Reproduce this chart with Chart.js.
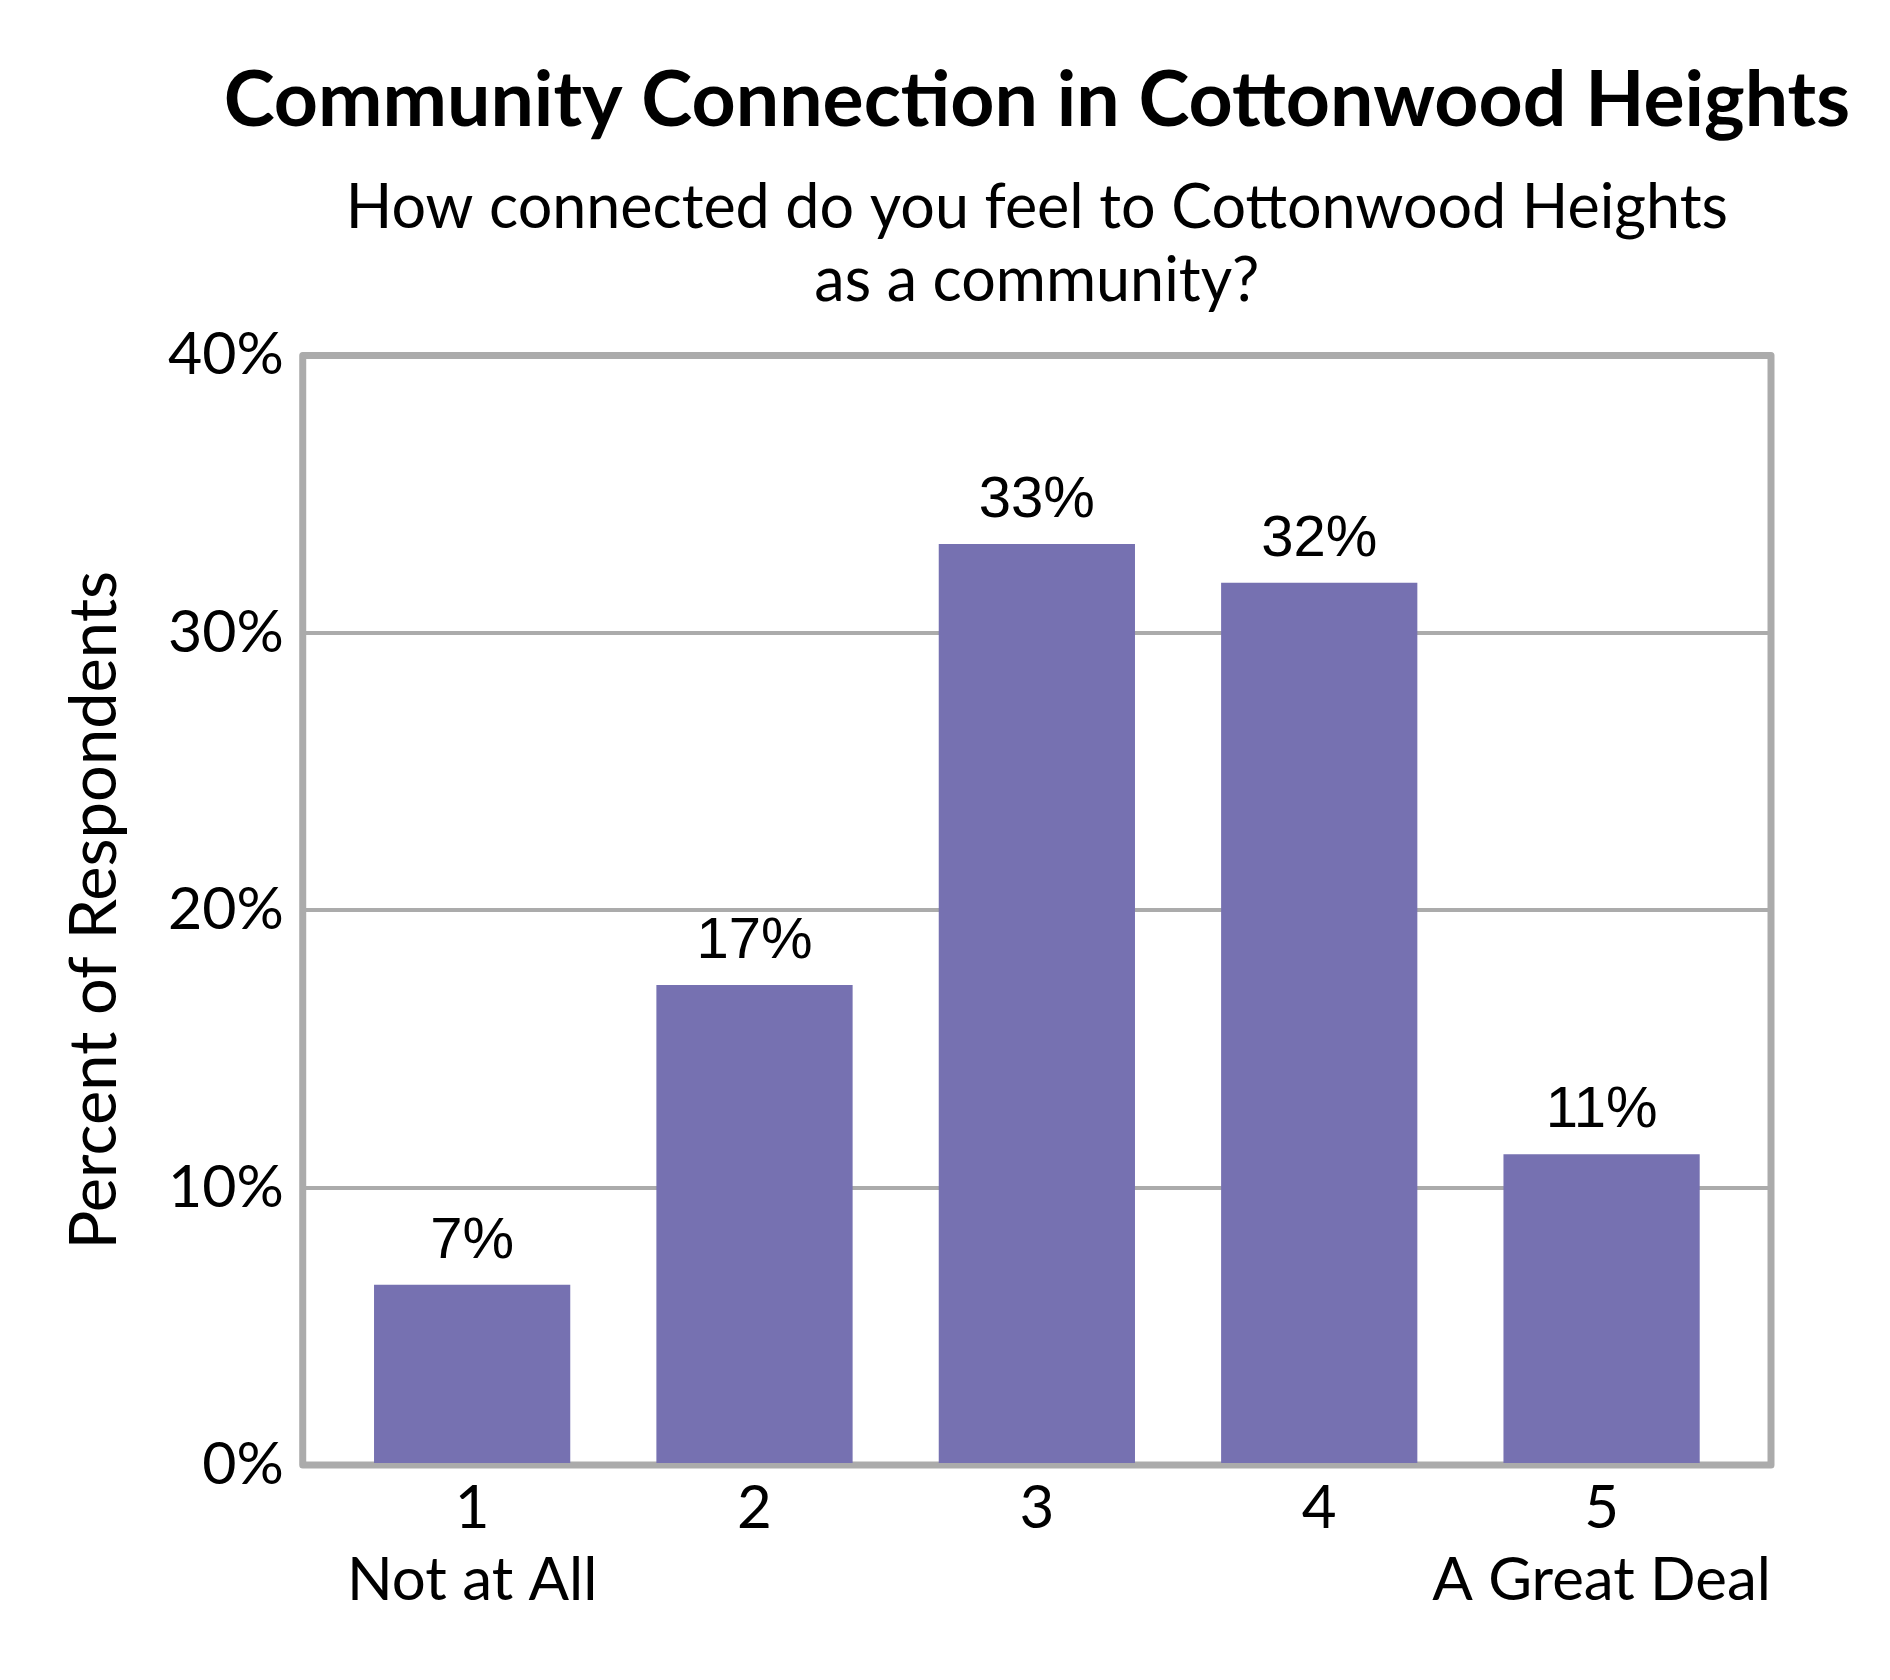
<!DOCTYPE html>
<html>
<head>
<meta charset="utf-8">
<script src="https://cdn.jsdelivr.net/npm/chart.js@4.4.1/dist/chart.umd.min.js"></script>
<style>
    html, body { margin: 0; padding: 0; background: #ffffff; }
    #chart { display: block; }
</style>
</head>
<body>
<canvas id="chart" width="1890" height="1680"></canvas>
<script>
// Survey responses, 1 = Not at All ... 5 = A Great Deal
const scaleLabels = [['1', 'Not at All'], ['2', ''], ['3', ''], ['4', ''], ['5', 'A Great Deal']];
const percentValues = [6.5, 17.3, 33.2, 31.8, 11.2];
const valueLabels = ['7%', '17%', '33%', '32%', '11%'];
const yTicks = [0, 10, 20, 30, 40];

const TITLE = 'Community Connection in Cottonwood Heights';
const SUBTITLE = ['How connected do you feel to Cottonwood Heights', 'as a community?'];

const COLORS = {
    bar: '#7671b1',
    frame: '#ababab',
    grid: '#ababab',
    text: '#000000',
};

const CALIBRI = "Lato, 'Open Sans', sans-serif";
const ARIAL = "'Liberation Sans', Arial, sans-serif";

// grey box round the plot area, drawn behind the bars
const framePlugin = {
    id: 'frame',
    beforeDatasetsDraw(chart) {
        const { ctx, chartArea: a } = chart;
        ctx.save();
        ctx.strokeStyle = COLORS.frame;
        ctx.lineWidth = 7;
        ctx.lineJoin = 'round';
        ctx.strokeRect(a.left, a.top, a.right - a.left, a.bottom - a.top);
        ctx.restore();
    }
};

// value labels above each bar
const valueLabelPlugin = {
    id: 'valueLabels',
    afterDatasetsDraw(chart) {
        const { ctx } = chart;
        const meta = chart.getDatasetMeta(0);
        ctx.save();
        ctx.fillStyle = COLORS.text;
        ctx.font = '58px ' + ARIAL;
        ctx.textAlign = 'center';
        ctx.textBaseline = 'alphabetic';
        meta.data.forEach((bar, i) => {
            ctx.fillText(valueLabels[i], bar.x, bar.y - 27);
        });
        ctx.restore();
    }
};

// main title is wider than the plot but centred on it, so the built-in
// title (which squeezes text to the box) is not used; space is kept by the subtitle padding
const plotTitlePlugin = {
    id: 'plotTitle',
    afterDraw(chart) {
        const { ctx, chartArea: a } = chart;
        ctx.save();
        ctx.fillStyle = COLORS.text;
        ctx.font = 'bold 77px ' + CALIBRI;
        ctx.textAlign = 'center';
        ctx.textBaseline = 'alphabetic';
        ctx.fillText(TITLE, (a.left + a.right) / 2, 126);
        ctx.restore();
    }
};

Chart.defaults.font.family = CALIBRI;
Chart.defaults.color = COLORS.text;

new Chart(document.getElementById('chart'), {
    type: 'bar',
    data: {
        datasets: [{
            data: percentValues.map((v, i) => ({ x: i, y: v })),
            backgroundColor: COLORS.bar,
            borderWidth: 0,
            barPercentage: 0.695,
            categoryPercentage: 1.0,
        }]
    },
    options: {
        responsive: false,
        devicePixelRatio: 1,
        animation: false,
        layout: {
            padding: { top: 0, right: 119, bottom: 63, left: 56 }
        },
        plugins: {
            legend: { display: false },
            tooltip: { enabled: false },
            title: { display: false },
            subtitle: {
                display: true,
                text: SUBTITLE,
                fullSize: false,
                color: COLORS.text,
                font: { size: 61, family: CALIBRI, lineHeight: 1.2 },
                padding: { top: 172, bottom: 37 },
            },
        },
        scales: {
            x: {
                type: 'linear',
                offset: false,
                min: -0.6,
                max: 4.6,
                afterBuildTicks: axis => {
                    axis.ticks = scaleLabels.map((_, i) => ({ value: i }));
                },
                grid: { display: false },
                border: { display: false },
                ticks: {
                    color: COLORS.text,
                    font: { size: 60, family: CALIBRI, lineHeight: 1.2 },
                    padding: 0,
                    maxRotation: 0,
                    autoSkip: false,
                    callback: v => scaleLabels[v],
                },
            },
            y: {
                min: 0,
                max: 40,
                afterBuildTicks: axis => {
                    axis.ticks = yTicks.map(v => ({ value: v }));
                },
                grid: {
                    color: COLORS.grid,
                    lineWidth: 4,
                    drawTicks: false,
                },
                border: { display: false },
                ticks: {
                    color: COLORS.text,
                    font: { size: 59, family: CALIBRI },
                    padding: 19,
                    callback: v => v + '%',
                },
                title: {
                    display: true,
                    text: 'Percent of Respondents',
                    color: COLORS.text,
                    font: { size: 65, family: CALIBRI },
                    padding: { top: 0, bottom: 15 },
                },
            }
        }
    },
    plugins: [framePlugin, valueLabelPlugin, plotTitlePlugin],
});
</script>
</body>
</html>
